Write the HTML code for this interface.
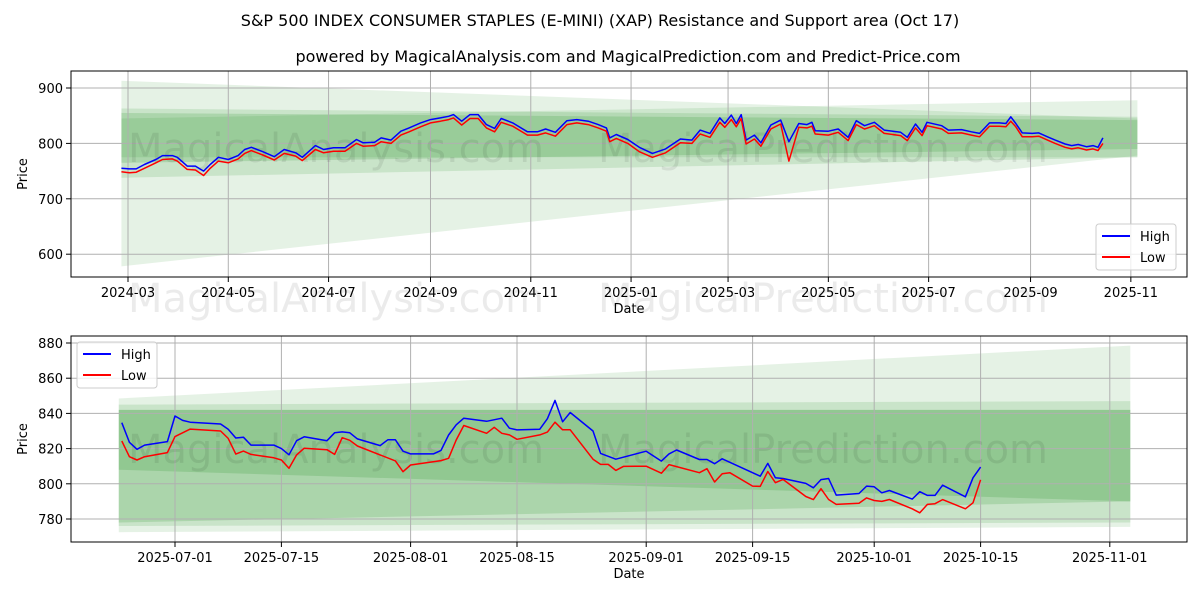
<!DOCTYPE html>
<html><head><meta charset="utf-8"><style>
body{margin:0;background:#fff;font-family:"Liberation Sans","DejaVu Sans",sans-serif}
svg text{font-family:"DejaVu Sans","Liberation Sans",sans-serif}
</style></head><body>
<svg id="chart" width="1200" height="600" xmlns="http://www.w3.org/2000/svg">
<rect width="1200" height="600" fill="#fff"/>
<text x="600" y="26" text-anchor="middle" font-size="16">S&amp;P 500 INDEX CONSUMER STAPLES (E-MINI) (XAP) Resistance and Support area (Oct 17)</text>
<text x="628" y="62" text-anchor="middle" font-size="16">powered by MagicalAnalysis.com and MagicalPrediction.com and Predict-Price.com</text>
<g id="top"></g>
<g id="bot"></g>
</svg>
<script>
// ---- top chart data (days since 2024-03-01) ----
const topHighDays=[-4,1,5,10,17,21,27,30,36,41,46,50,55,61,67,71,75,82,89,95,102,106,114,119,125,132,139,143,150,154,160,166,171,178,184,190,195,198,203,208,213,218,223,227,234,243,249,254,260,267,273,280,286,291,293,297,304,311,319,327,336,343,348,354,360,363,367,370,373,376,381,385,391,397,402,408,413,416,418,426,432,438,443,448,454,460,470,474,479,483,486,495,499,507,513,518,524,530,534,537,540,544,550,554,560,564,570,574,578,583,587,590,593];
const topHighVals=[755,754,754,762,771,778,778,775,759,759,750,762,775,771,778,789,793,785,776,789,783,775,796,789,792,792,807,801,802,810,806,822,828,837,843,846,849,852,840,852,852,834,827,845,837,821,821,826,820,841,843,840,834,828,810,816,807,793,782,790,808,806,824,818,846,836,851,836,852,806,815,801,833,842,803,836,834,838,823,822,826,811,841,832,838,824,820,811,835,820,838,832,824,825,821,818,837,837,836,848,836,819,818,819,811,806,799,796,798,794,796,793,810];
const topLowVals=[749,747,748,755,765,771,772,768,753,752,742,755,768,765,772,782,787,779,770,782,777,769,789,783,786,786,800,795,796,803,800,815,821,830,837,840,843,846,833,845,845,828,821,838,831,815,815,819,813,834,837,834,828,822,803,809,800,785,775,783,801,800,817,811,838,829,843,830,845,799,808,795,826,835,768,829,828,831,817,815,820,805,834,826,832,818,814,805,828,814,832,826,818,819,815,812,831,831,830,840,830,812,812,813,805,800,793,790,792,788,790,787,800];
const topXTicks=[0,61,122,184,245,306,365,426,487,549,610];
const topXLabels=["2024-03","2024-05","2024-07","2024-09","2024-11","2025-01","2025-03","2025-05","2025-07","2025-09","2025-11"];
const topYTicks=[600,700,800,900];
const topBandDays=[-4,614];
const topBandTops=[[913,845],[863,848],[855,842],[845,878]];
const topBandBots=[[578,778],[738,775],[765,790],[775,775]];
const topBandOp=[0.1,0.12,0.15,0.1];
// ---- bottom chart data (days since 2025-06-24) ----
const botHighDays=[0,1,2,3,6,7,8,9,13,14,15,16,17,20,21,22,23,24,27,28,29,30,31,34,35,36,37,38,41,42,43,44,45,48,50,51,52,55,56,57,58,59,62,63,65,69,71,72,73,76,77,78,79,84,85,86,87,90,91,92,93,94,97,98,99,100,101,104,105,106,107,108,111,112,113];
const botHighVals=[834.7,823.6,819.6,822,824,838.5,836,835,834,831,826,826.5,822,822,820,816.5,824.5,826.7,824.5,829,829.5,829,825.5,821.7,825,825,818.5,817,817,819,827.7,833.5,837.3,835.5,837.3,831.6,830.6,831,837,847.4,835.2,840.5,830,817.3,814,818.5,812.9,817,819.2,813.8,813.8,811.4,814.2,804.3,811.6,803.4,803,800.2,797.7,802.4,803,793.6,794.5,798.7,798.3,794.9,796.2,791.3,795.5,793.4,793.4,799.2,792.6,803.4,809.5];
const botLowDays=[0,1,2,3,6,7,9,13,14,15,16,17,20,21,22,23,24,27,28,29,30,31,36,37,38,42,43,44,45,48,49,50,51,52,55,56,57,58,59,62,63,64,65,66,69,71,72,76,77,78,79,80,83,84,85,86,87,90,91,92,93,94,97,98,99,100,101,104,105,106,107,108,111,112,113];
const botLowVals=[824.3,815.4,813.5,815.4,817.7,826.8,831.1,830,825.8,816.9,818.6,816.7,814.8,813.5,808.8,816.4,820.2,819.4,816.7,826.2,824.7,821.5,813,806.9,810.7,813.2,814.5,824.9,833.1,828.7,832.1,828.7,827.8,825.3,827.8,829.4,835,830.7,830.7,814,811,811,807.6,809.9,810,806,810.9,806.3,808.6,801,805.7,806.3,798.7,798.5,807,800.6,802.5,792.8,791,797.2,791.1,788.3,789,792,790.5,790,791.1,785.8,783.5,788.3,788.7,791,785.8,789.2,802.3];
const botXTicks=[7,21,38,52,69,83,99,113,130];
const botXLabels=["2025-07-01","2025-07-15","2025-08-01","2025-08-15","2025-09-01","2025-09-15","2025-10-01","2025-10-15","2025-11-01"];
const botYTicks=[780,800,820,840,860,880];
const botBandDays=[-0.4,132.7];
const botBandTops=[[848.5,878.5],[845,847],[842,842],[842,842]];
const botBandBots=[[772.5,775.5],[776,778],[778,790],[808,790]];
const botBandOp=[0.1,0.12,0.15,0.15];

const NS="http://www.w3.org/2000/svg";
function mk(parent,tag,attrs){const e=document.createElementNS(NS,tag);for(const k in attrs)e.setAttribute(k,attrs[k]);parent.appendChild(e);return e;}

function panel(g,P){
  const {L,T,R,B,xs,ys}=P;
  for(let i=0;i<P.tops.length;i++){
    const d0=P.bandDays[0],d1=P.bandDays[1];
    const pts=[[xs(d0),ys(P.tops[i][0])],[xs(d1),ys(P.tops[i][1])],[xs(d1),ys(P.bots[i][1])],[xs(d0),ys(P.bots[i][0])]];
    const p=mk(g,'polygon',{points:pts.map(q=>q.join(',')).join(' '),fill:'#008000','fill-opacity':P.op[i]});
    
    
  }
  P.xt.forEach((d,i)=>{const x=xs(d);
    const l=mk(g,'line',{x1:x,x2:x,y1:T,y2:B,stroke:'#b0b0b0','stroke-width':1});
    
    mk(g,'line',{x1:x,x2:x,y1:B,y2:B+5,stroke:'#000'});
    const t=mk(g,'text',{x:x,y:B+20,'text-anchor':'middle','font-size':13});t.textContent=P.xl[i];
    
  });
  P.yt.forEach(v=>{const y=ys(v);
    const l=mk(g,'line',{x1:L,x2:R,y1:y,y2:y,stroke:'#b0b0b0','stroke-width':1});
    
    mk(g,'line',{x1:L-5,x2:L,y1:y,y2:y,stroke:'#000'});
    const t=mk(g,'text',{x:L-8,y:y+5,'text-anchor':'end','font-size':13});t.textContent=v;
    
  });
  P.wm.forEach(w=>{const t=mk(g,'text',{x:w[0],y:w[1],'font-size':40,fill:'#000','fill-opacity':0.08});t.textContent=w[2];
    });
  const hp=P.hd.map((d,i)=>xs(d).toFixed(1)+','+ys(P.hv[i]).toFixed(1)).join(' ');
  const lp=P.ld.map((d,i)=>xs(d).toFixed(1)+','+ys(P.lv[i]).toFixed(1)).join(' ');
  const h=mk(g,'polyline',{points:hp,fill:'none',stroke:'#0000ff','stroke-width':1.5,'stroke-linejoin':'round'});
  
  const lo=mk(g,'polyline',{points:lp,fill:'none',stroke:'#ff0000','stroke-width':1.5,'stroke-linejoin':'round'});
  
  const f=mk(g,'rect',{x:L,y:T,width:R-L,height:B-T,fill:'none',stroke:'#000','stroke-width':1});
  
  const xl=mk(g,'text',{x:(L+R)/2,y:B+36,'text-anchor':'middle','font-size':13});xl.textContent='Date';
  
  const yl=mk(g,'text',{x:0,y:0,'text-anchor':'middle','font-size':13,transform:`translate(27,${(T+B)/2}) rotate(-90)`});yl.textContent='Price';
  
  const lg=mk(g,'g',{});
  
  const [lx,ly]=P.leg;
  mk(lg,'rect',{x:lx,y:ly,width:80,height:46,rx:3,fill:'#fff','fill-opacity':0.8,stroke:'#ccc'});
  mk(lg,'line',{x1:lx+6,x2:lx+34,y1:ly+12,y2:ly+12,stroke:'#0000ff','stroke-width':2});
  mk(lg,'line',{x1:lx+6,x2:lx+34,y1:ly+33,y2:ly+33,stroke:'#ff0000','stroke-width':2});
  const t1=mk(lg,'text',{x:lx+44,y:ly+17,'font-size':13});t1.textContent='High';
  
  const t2=mk(lg,'text',{x:lx+44,y:ly+38,'font-size':13});t2.textContent='Low';
  
}
panel(document.getElementById('top'),{L:71,T:71,R:1187,B:277,
  xs:d=>128+d*1.644, ys:v=>88+(900-v)*0.554,
  bandDays:topBandDays,tops:topBandTops,bots:topBandBots,op:topBandOp,
  xt:topXTicks,xl:topXLabels,yt:topYTicks,
  wm:[[128,162,'MagicalAnalysis.com'],[598,162,'MagicalPrediction.com'],[128,312,'MagicalAnalysis.com'],[598,312,'MagicalPrediction.com']],
  hd:topHighDays,hv:topHighVals,ld:topHighDays,lv:topLowVals,leg:[1096,224]});
panel(document.getElementById('bot'),{L:71,T:336,R:1187,B:542,
  xs:d=>175+(d-7)*7.6, ys:v=>343+(880-v)*1.76,
  bandDays:botBandDays,tops:botBandTops,bots:botBandBots,op:botBandOp,
  xt:botXTicks,xl:botXLabels,yt:botYTicks,
  wm:[[128,463,'MagicalAnalysis.com'],[598,463,'MagicalPrediction.com']],
  hd:botHighDays,hv:botHighVals,ld:botLowDays,lv:botLowVals,leg:[77,342]});
</script>
</body></html>
